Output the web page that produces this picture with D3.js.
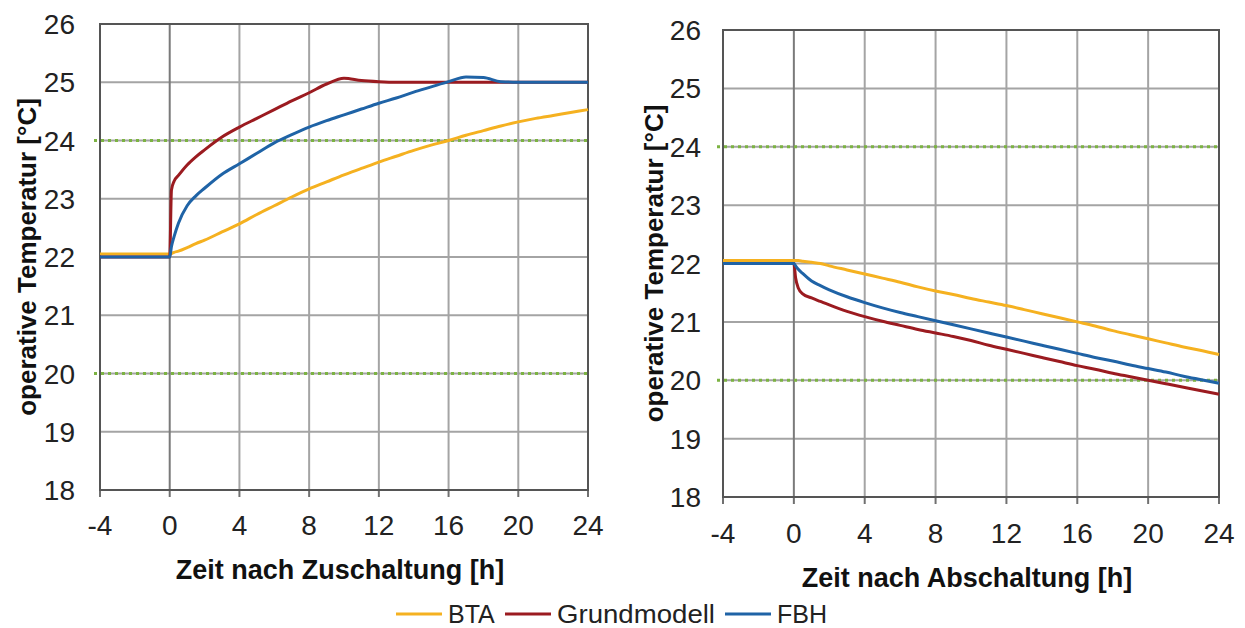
<!DOCTYPE html>
<html><head><meta charset="utf-8">
<script src="https://cdn.jsdelivr.net/npm/d3@7"></script>
<style>
html,body{margin:0;padding:0;background:#fff;}
svg{display:block;font-family:"Liberation Sans",Arial,sans-serif;}
</style></head>
<body><svg id="c" width="1245" height="628"></svg>
<script>
// ---- data ----
const hours = [-4,0,0.1,0.25,0.5,1,1.5,2,3,4,5,6,7,8,9,10,11,12,13,14,15,16,17,18,19,20,21,22,23,24];
const seriesNames = ["BTA","Grundmodell","FBH"];
const seriesColors = ["#f5b120","#9b1b20","#1f63a6"];
// heating up (Zuschaltung)
const upBTA = [22.05,22.05,22.06,22.08,22.1,22.16,22.23,22.29,22.43,22.57,22.73,22.88,23.03,23.17,23.29,23.41,23.52,23.63,23.73,23.83,23.92,24.0,24.09,24.17,24.25,24.32,24.38,24.43,24.48,24.53];
const upGrund = [22.0,22.0,23.15,23.3,23.4,23.58,23.72,23.84,24.06,24.23,24.38,24.53,24.68,24.82,24.97,25.07,25.03,25.01,25.0,25.0,25.0,25.0,25.0,25.0,25.0,25.0,25.0,25.0,25.0,25.0];
const upFBH = [22.0,22.0,22.18,22.35,22.58,22.88,23.05,23.18,23.42,23.6,23.78,23.96,24.1,24.23,24.34,24.44,24.54,24.64,24.73,24.83,24.92,25.01,25.09,25.08,25.01,25.0,25.0,25.0,25.0,25.0];
// cooling down (Abschaltung)
const downBTA = [22.05,22.05,22.05,22.05,22.04,22.02,22.0,21.96,21.89,21.82,21.75,21.68,21.6,21.53,21.47,21.4,21.34,21.28,21.21,21.14,21.07,21.0,20.93,20.85,20.78,20.71,20.64,20.57,20.51,20.44];
const downGrund = [22.0,22.0,21.75,21.58,21.48,21.41,21.35,21.29,21.18,21.09,21.01,20.94,20.87,20.81,20.75,20.68,20.6,20.53,20.46,20.39,20.32,20.25,20.19,20.12,20.06,20.0,19.94,19.88,19.82,19.76];
const downFBH = [22.0,22.0,21.96,21.9,21.83,21.7,21.62,21.55,21.43,21.33,21.24,21.16,21.09,21.02,20.95,20.88,20.81,20.74,20.67,20.6,20.53,20.46,20.39,20.33,20.26,20.2,20.14,20.07,20.01,19.95];
const xTicks = [-4,0,4,8,12,16,20,24];
const yTicks = [18,19,20,21,22,23,24,25,26];
const limitLines = [24,20];
const yTitle = "operative Temperatur [°C]";
const xTitles = ["Zeit nach Zuschaltung [h]","Zeit nach Abschaltung [h]"];

// ---- drawing ----
const svg = d3.select("#c");
const panels = [
  {l:100,r:588,t:24,b:490, series:[upBTA,upGrund,upFBH], xt:xTitles[0], yLabX:75, yTitleX:27, xLabY:535, xTitleY:579},
  {l:723,r:1219,t:30,b:497, series:[downBTA,downGrund,downFBH], xt:xTitles[1], yLabX:701, yTitleX:654, xLabY:543, xTitleY:587}
];
panels.forEach(p=>{
  const x = d3.scaleLinear().domain([-4,24]).range([p.l,p.r]);
  const y = d3.scaleLinear().domain([18,26]).range([p.b,p.t]);
  const g = svg.append("g");
  g.selectAll(".hg").data(yTicks).join("line")
    .attr("x1",p.l).attr("x2",p.r).attr("y1",d=>y(d)).attr("y2",d=>y(d))
    .attr("stroke","#a4a4a4").attr("stroke-width",2);
  g.selectAll(".vg").data(xTicks.filter(d=>d>-4&&d<24)).join("line")
    .attr("x1",d=>x(d)).attr("x2",d=>x(d)).attr("y1",p.t).attr("y2",p.b)
    .attr("stroke",d=>d===0?"#7a7a7a":"#a4a4a4").attr("stroke-width",2);
  g.selectAll(".tk").data(xTicks).join("line")
    .attr("x1",d=>x(d)).attr("x2",d=>x(d)).attr("y1",p.b).attr("y2",p.b+7)
    .attr("stroke","#707070").attr("stroke-width",2);
  g.append("rect").attr("x",p.l).attr("y",p.t).attr("width",p.r-p.l).attr("height",p.b-p.t)
    .attr("fill","none").attr("stroke","#555").attr("stroke-width",2);
  g.selectAll(".lim").data(limitLines).join("line")
    .attr("x1",p.l-6).attr("x2",p.r).attr("y1",d=>y(d)).attr("y2",d=>y(d))
    .attr("stroke","#7cb342").attr("stroke-width",3).attr("stroke-dasharray","3,4");
  const line = d3.line().x((d,i)=>x(hours[i])).y(d=>y(d)).curve(d3.curveMonotoneX);
  p.series.forEach((s,k)=>{
    g.append("path").datum(s).attr("d",line).attr("fill","none")
      .attr("stroke",seriesColors[k]).attr("stroke-width",3).attr("stroke-linejoin","round");
  });
  g.selectAll(".yl").data(yTicks).join("text")
    .attr("x",p.yLabX).attr("y",d=>y(d)+10).attr("text-anchor","end")
    .attr("font-size",28).attr("fill","#222").text(d=>d);
  g.selectAll(".xl").data(xTicks).join("text")
    .attr("x",d=>x(d)).attr("y",p.xLabY).attr("text-anchor","middle")
    .attr("font-size",28).attr("fill","#222").text(d=>d);
  g.append("text").attr("x",(p.l+p.r)/2-4).attr("y",p.xTitleY).attr("text-anchor","middle")
    .attr("font-size",27).attr("font-weight","bold").attr("fill","#111").text(p.xt);
  g.append("text").attr("transform",`translate(${p.yTitleX+9},${(p.t+p.b)/2}) rotate(-90)`)
    .attr("text-anchor","middle").attr("font-size",26).attr("font-weight","bold").attr("fill","#111").text(yTitle);
});
// legend
const legX = [396,505,725];
const legLen = [null,158,null];
const leg = svg.append("g");
seriesNames.forEach((n,k)=>{
  leg.append("line").attr("x1",legX[k]).attr("x2",legX[k]+46).attr("y1",614).attr("y2",614)
    .attr("stroke",seriesColors[k]).attr("stroke-width",3);
  const t = leg.append("text").attr("x",legX[k]+52).attr("y",623).attr("font-size",25).attr("fill","#222").text(n);
  if (legLen[k]) t.attr("textLength",legLen[k]).attr("lengthAdjust","spacingAndGlyphs");
});
</script></body></html>
